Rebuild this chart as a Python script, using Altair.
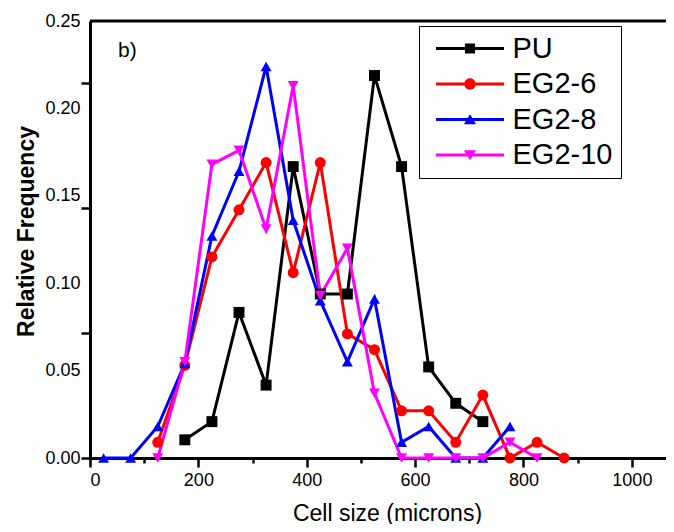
import altair as alt
import pandas as pd

# ---------------- data ----------------
series = ["PU", "EG2-6", "EG2-8", "EG2-10"]
colors = ["#000000", "#FF0000", "#0000FF", "#FF00FF"]
plot_shapes = ["square", "circle", "triangle-up", "triangle-down"]

pu_x = [175, 225, 275, 325, 375, 425, 475, 525, 575, 625, 675, 725]
pu_y = [0.0104, 0.0208, 0.0833, 0.0417, 0.1667, 0.0938, 0.0938, 0.2188,
        0.1667, 0.0521, 0.0313, 0.0208]

eg6_x = [125, 175, 225, 275, 325, 375, 425, 475, 525, 575, 625, 675, 725,
         775, 825, 875]
eg6_y = [0.009, 0.053, 0.115, 0.142, 0.169, 0.106, 0.169, 0.071, 0.062,
         0.027, 0.027, 0.009, 0.036, 0.0, 0.009, 0.0]

eg8_x = [25, 75, 125, 175, 225, 275, 325, 375, 425, 475, 525, 575, 625,
         675, 725, 775]
eg8_y = [0.0, 0.0, 0.018, 0.054, 0.127, 0.164, 0.224, 0.136, 0.090, 0.055,
         0.091, 0.009, 0.018, 0.0, 0.0, 0.018]

eg10_x = [125, 175, 225, 275, 325, 375, 425, 475, 525, 575, 625, 675, 725,
          775, 825]
eg10_y = [0.0, 0.055, 0.168, 0.176, 0.131, 0.213, 0.093, 0.120, 0.037, 0.0,
          0.0, 0.0, 0.0, 0.009, 0.0]

x_label_values = [0, 200, 400, 600, 800, 1000]
x_minor_values = [100, 300, 500, 700, 900]
y_label_values = [0.0, 0.05, 0.10, 0.15, 0.20, 0.25]
y_tick_values = [0.0, 0.0714, 0.1429, 0.2143]
x_max = 1063
y_max = 0.25
panel_label = "b)"

# ---------------- build table ----------------
rows = []
for name, xs, ys in [("PU", pu_x, pu_y), ("EG2-6", eg6_x, eg6_y),
                     ("EG2-8", eg8_x, eg8_y), ("EG2-10", eg10_x, eg10_y)]:
    for i, (xv, yv) in enumerate(zip(xs, ys)):
        rows.append({"series": name, "size": xv, "freq": yv, "order": i})
df = pd.DataFrame(rows)
legend_df = pd.DataFrame({"lg": series, "size": [0] * 4, "freq": [0] * 4})
top_df = pd.DataFrame({"freq": [y_max]})

# legend symbols: a line with the marker in its middle (unit coords, 1 unit = 14.5 px)
bar = "M-2.345,-0.1H2.345V0.1H-2.345Z "
legend_shapes = [
    bar + "M-0.35,-0.35H0.35V0.35H-0.35Z",
    bar + "M-0.39,0A0.39,0.39 0 1,1 0.39,0A0.39,0.39 0 1,1 -0.39,0Z",
    bar + "M0,-0.37L0.42,0.33L-0.42,0.33Z",
    bar + "M-0.42,-0.33L0.42,-0.33L0,0.37Z",
]

FONT = "Liberation Sans"
xscale = alt.Scale(domain=[0, x_max], nice=False, zero=False)
yscale = alt.Scale(domain=[0, y_max], nice=False, zero=False)
cscale = alt.Scale(domain=series, range=colors)

x_main_axis = alt.Axis(values=x_label_values, format="d", title="Cell size (microns)",
                       tickSize=9, tickWidth=2.5, tickColor="black",
                       domainWidth=3, domainColor="black",
                       labelFont=FONT, labelFontSize=18, labelColor="black",
                       labelPadding=4, titleFont=FONT, titleFontSize=23,
                       titleFontWeight="normal", titleColor="black",
                       titleX=297, titleY=62, titleBaseline="alphabetic",
                       titleAlign="center", grid=False, orient="bottom")
y_main_axis = alt.Axis(values=y_label_values, format=".2f", title="Relative Frequency",
                       ticks=False, tickSize=0, domainWidth=3, domainColor="black",
                       labelFont=FONT, labelFontSize=18, labelColor="black",
                       labelPadding=10, titleFont=FONT, titleFontSize=23,
                       titleFontWeight="bold", titleColor="black",
                       titleX=-57, titleY=210, titleBaseline="alphabetic",
                       titleAlign="center", titleAngle=270, grid=False, orient="left")
x_minor_axis = alt.Axis(values=x_minor_values, labels=False, domain=False, title=None,
                        tickSize=5, tickWidth=2.5, tickColor="black", grid=False,
                        orient="bottom")
y_tick_axis = alt.Axis(values=y_tick_values, labels=False, domain=False, title=None,
                       tickSize=9, tickWidth=2.5, tickColor="black", grid=False,
                       orient="left")

lines = alt.Chart(df).mark_line(strokeWidth=3).encode(
    x=alt.X("size:Q", scale=xscale, axis=x_main_axis),
    y=alt.Y("freq:Q", scale=yscale, axis=y_main_axis),
    color=alt.Color("series:N", scale=cscale, legend=None),
    detail="series:N",
    order="order:Q",
)

points = alt.Chart(df).mark_point(filled=True, opacity=1, size=120, strokeWidth=0).encode(
    x=alt.X("size:Q", scale=xscale, axis=x_minor_axis),
    y=alt.Y("freq:Q", scale=yscale, axis=y_tick_axis),
    color=alt.Color("series:N", scale=cscale, legend=None),
    shape=alt.Shape("series:N", scale=alt.Scale(domain=series, range=plot_shapes),
                    legend=None),
)

top = alt.Chart(top_df).mark_rule(strokeWidth=3, color="black").encode(
    y=alt.Y("freq:Q", scale=yscale, axis=None),
)

legend_layer = alt.Chart(legend_df).transform_filter("false").mark_point(
    filled=True, opacity=1, size=841, strokeWidth=0
).encode(
    x=alt.X("size:Q", scale=xscale, axis=None),
    y=alt.Y("freq:Q", scale=yscale, axis=None),
    color=alt.Color("lg:N", scale=alt.Scale(domain=series, range=colors),
                    legend=alt.Legend(title=None)),
    shape=alt.Shape("lg:N", scale=alt.Scale(domain=series, range=legend_shapes),
                    legend=alt.Legend(
                        title=None, orient="none", legendX=329, legendY=5,
                        fillColor="white", strokeColor="black", padding=8,
                        symbolOffset=28.5, symbolSize=841, symbolStrokeWidth=0,
                        labelFont=FONT, labelFontSize=29, labelColor="black",
                        labelOffset=28, rowPadding=5.5, labelLimit=300)),
)

chart = alt.layer(lines, points, top, legend_layer).resolve_scale(
    color="independent", shape="independent"
).resolve_axis(
    x="independent", y="independent"
).properties(
    width=576, height=437,
    padding={"left": 82, "top": 13, "right": 0, "bottom": 66},
    autosize=alt.AutoSizeParams(type="none"),
    title=alt.TitleParams(panel_label, anchor="start", frame="group", dx=28, dy=66,
                          offset=0, baseline="alphabetic", font=FONT, fontSize=21,
                          fontWeight="normal", color="black"),
).configure_view(strokeWidth=0, strokeOpacity=0).configure_axis(grid=False)

chart.save("out.html", embed_options={"renderer": "svg", "actions": False})
